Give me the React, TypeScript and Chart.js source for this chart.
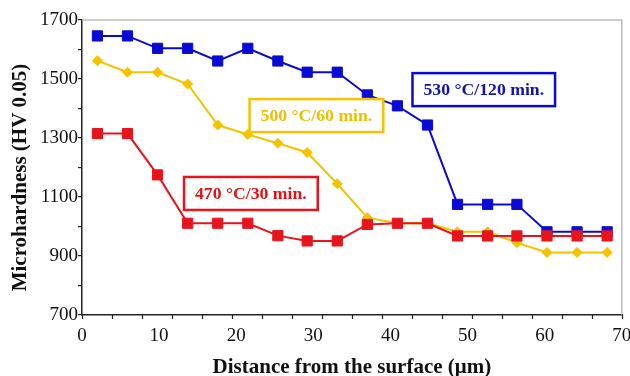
import React, { useEffect, useRef } from "react";
import { Chart, registerables } from "chart.js";

Chart.register(...registerables);

const depths = [2.0, 5.9, 9.8, 13.7, 17.6, 21.5, 25.4, 29.2, 33.1, 37.0, 40.9, 44.8, 48.7, 52.6, 56.4, 60.3, 64.2, 68.1];
const blue530 = [1646, 1646, 1604, 1604, 1561, 1604, 1561, 1523, 1523, 1446, 1409, 1344, 1075, 1075, 1075, 982, 982, 982];
const yellow500 = [1562, 1523, 1523, 1483, 1344, 1312, 1282, 1251, 1145, 1030, 1011, 1011, 982, 982, 945, 912, 912, 912];
const red470 = [1315, 1315, 1175, 1011, 1011, 1011, 969, 951, 951, 1007, 1011, 1011, 968, 968, 968, 968, 968, 968];

const seriesLabels = ["530 °C/120 min.", "500 °C/60 min.", "470 °C/30 min."];
const labelAnchorX = [52.1, 30.4, 21.9];
const labelAnchorY = [1464, 1376, 1112];

const xTitle = "Distance from the surface (μm)";
const yTitle = "Microhardness (HV 0.05)";

const xTickStep = 10;
const xMinorStep = 70 / 18;
const yMin = 700;
const yMax = 1700;

const BLUE = "#0a0ad6";
const YELLOW = "#f5c200";
const RED = "#e8141c";
const TEXT_COLORS = ["#1212b0", "#f0be00", "#e01418"];
const BOX_COLORS = [BLUE, YELLOW, RED];

const FONT = "'Liberation Serif', 'DejaVu Serif', serif";

const framePlugin = {
  id: "frameAndLabels",
  afterDraw(chart: any) {
    const { ctx, chartArea, scales } = chart;
    const x = scales.x;
    const y = scales.y;
    ctx.save();
    // top and right frame
    ctx.strokeStyle = "#bdbdbd";
    ctx.lineWidth = 1.5;
    ctx.beginPath();
    ctx.moveTo(chartArea.left, chartArea.top);
    ctx.lineTo(chartArea.right, chartArea.top);
    ctx.lineTo(chartArea.right, chartArea.bottom);
    ctx.stroke();
    // minor x tick marks
    ctx.strokeStyle = "#222";
    ctx.lineWidth = 1.2;
    ctx.beginPath();
    for (let v = 0; v <= 70 + 1e-6; v += xMinorStep) {
      const px = Math.round(x.getPixelForValue(v)) + 0.5;
      ctx.moveTo(px, chartArea.bottom - 1);
      ctx.lineTo(px, chartArea.bottom + 4);
    }
    ctx.stroke();
    // y axis title
    ctx.save();
    ctx.translate(21, (chartArea.top + chartArea.bottom) / 2 + 10);
    ctx.rotate(-Math.PI / 2);
    ctx.font = `bold 21px ${FONT}`;
    ctx.fillStyle = "#111";
    ctx.textAlign = "center";
    ctx.textBaseline = "middle";
    ctx.fillText(yTitle, 0, 0);
    ctx.restore();
    // boxed labels
    ctx.font = `bold 17.7px ${FONT}`;
    ctx.textAlign = "center";
    ctx.textBaseline = "middle";
    for (let i = 0; i < seriesLabels.length; i++) {
      const cx = x.getPixelForValue(labelAnchorX[i]);
      const cy = y.getPixelForValue(labelAnchorY[i]);
      const w = ctx.measureText(seriesLabels[i]).width + 22;
      const h = 33;
      ctx.fillStyle = "#fff";
      ctx.fillRect(cx - w / 2, cy - h / 2, w, h);
      ctx.strokeStyle = BOX_COLORS[i];
      ctx.lineWidth = 2.5;
      ctx.strokeRect(cx - w / 2, cy - h / 2, w, h);
      ctx.fillStyle = TEXT_COLORS[i];
      ctx.fillText(seriesLabels[i], cx, cy + 1);
    }
    ctx.restore();
  },
};

export default function App() {
  const ref = useRef<HTMLCanvasElement>(null);
  useEffect(() => {
    document.body.style.margin = "0";
    const mk = (data: number[]) => data.map((v, i) => ({ x: depths[i], y: v }));
    const chart = new Chart(ref.current!, {
      type: "line",
      data: {
        datasets: [
          {
            label: seriesLabels[2],
            data: mk(red470),
            borderColor: RED,
            backgroundColor: RED,
            borderWidth: 2,
            pointStyle: "rect",
            pointRadius: 7.2,
            pointBorderWidth: 1,
          },
          {
            label: seriesLabels[1],
            data: mk(yellow500),
            borderColor: YELLOW,
            backgroundColor: YELLOW,
            borderWidth: 2,
            pointStyle: "rectRot",
            pointRadius: 5,
            pointBorderWidth: 1,
          },
          {
            label: seriesLabels[0],
            data: mk(blue530),
            borderColor: BLUE,
            backgroundColor: BLUE,
            borderWidth: 2,
            pointStyle: "rect",
            pointRadius: 7.2,
            pointBorderWidth: 1,
          },
        ],
      },
      options: {
        animation: false,
        responsive: false,
        devicePixelRatio: 1,
        layout: { padding: { top: 20, right: 4, left: 0, bottom: 0 } },
        plugins: { legend: { display: false }, tooltip: { enabled: false } },
        scales: {
          x: {
            type: "linear",
            min: 0,
            max: 70,
            ticks: {
              stepSize: xTickStep,
              color: "#111",
              padding: 2,
              maxRotation: 0,
              font: { family: FONT, size: 19 },
            },
            grid: { display: false },
            border: { display: true, color: "#222", width: 1.5 },
            title: {
              display: true,
              text: xTitle,
              color: "#111",
              font: { family: FONT, size: 21, weight: "bold" },
              padding: { top: 0, bottom: -4 },
            },
            afterFit(scale: any) {
              scale.height = 61;
              scale.paddingLeft = 0;
              scale.paddingRight = 0;
            },
          },
          y: {
            type: "linear",
            min: yMin,
            max: yMax,
            ticks: {
              stepSize: 100,
              color: "#111",
              padding: 0,
              font: { family: FONT, size: 19 },
              callback: (v: any) => ((Number(v) - yMin) % 200 === 0 ? String(v) : ""),
            },
            grid: {
              drawOnChartArea: false,
              drawTicks: true,
              tickLength: 4,
              color: "#222",
              lineWidth: 1.2,
            },
            border: { display: true, color: "#222", width: 1.5 },
            title: { display: false },
            afterFit(scale: any) {
              scale.width = 82;
              scale.paddingTop = 0;
              scale.paddingBottom = 0;
            },
          },
        },
      },
      plugins: [framePlugin],
    } as any);
    return () => chart.destroy();
  }, []);
  return (
    <div style={{ width: 630, height: 376 }}>
      <canvas ref={ref} width={630} height={376} />
    </div>
  );
}
